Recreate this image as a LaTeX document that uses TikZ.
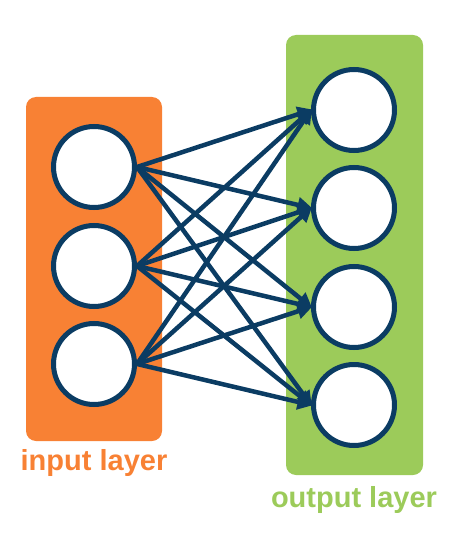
\documentclass[tikz,border=0pt]{standalone}
\usepackage{fontspec}
\setmainfont{Liberation Sans}
\usetikzlibrary{arrows.meta}
\definecolor{inorange}{HTML}{F88134}
\definecolor{outgreen}{HTML}{9CCB5A}
\definecolor{navy}{HTML}{0B3C63}
\tikzset{
  neuron/.style={circle, draw=navy, fill=white, line width=5pt, minimum size=81pt, inner sep=0pt},
  layerbox/.style={rounded corners=10pt, draw=none},
  conn/.style={draw=navy, line width=4.5pt, -{Triangle[length=15pt,width=15pt]}, shorten >=-1.5pt},
  lbl/.style={font=\bfseries\fontsize{29}{32}\selectfont, inner sep=0pt}
}
\begin{document}
\begin{tikzpicture}[x=1pt,y=-1pt]
\useasboundingbox (0,0) rectangle (474,540);
\fill[inorange,layerbox] (26,97) rectangle (162,441);
\fill[outgreen,layerbox] (286,35) rectangle (423,475);
\node[neuron] (i1) at (94,167) {};
\node[neuron] (i2) at (94,266) {};
\node[neuron] (i3) at (94,364) {};
\node[neuron] (o1) at (354,110) {};
\node[neuron] (o2) at (354,208) {};
\node[neuron] (o3) at (354,307) {};
\node[neuron] (o4) at (354,405) {};
\foreach \i in {1,2,3}{
  \foreach \o in {1,2,3,4}{
    \draw[conn] (i\i.east) -- (o\o.west);
  }
}
\node[lbl, text=inorange] (lin) at (94,463) {input layer};
\node[lbl, text=outgreen] (lout) at (354,500) {output layer};
\end{tikzpicture}
\end{document}
